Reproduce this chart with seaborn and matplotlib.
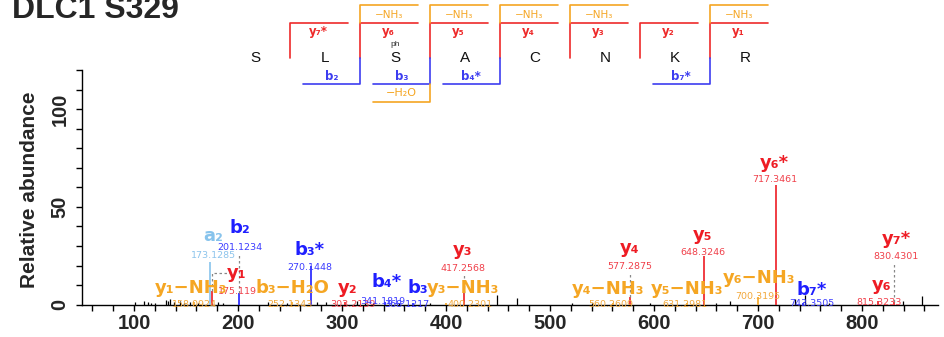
import matplotlib
matplotlib.use("Agg")
import matplotlib.pyplot as plt
from matplotlib.ticker import MultipleLocator
import seaborn as sns
import pandas as pd

sns.set_theme(style="ticks")
plt.rcParams["font.family"] = ["Liberation Sans", "DejaVu Sans"]

# --- annotated fragment ions -------------------------------------------
ion_names = ["a₂", "y₁", "b₂", "y₁−NH₃", "b₃−H₂O", "b₃*", "y₂", "b₄*", "b₃",
             "y₃−NH₃", "y₃", "y₄−NH₃", "y₄", "y₅−NH₃", "y₅", "y₆−NH₃", "y₆*",
             "b₇*", "y₆", "y₇*"]
ion_mz = [173.1285, 175.119, 201.1234, 158.0924, 252.1343, 270.1448, 303.2139,
          341.1819, 368.1217, 400.2301, 417.2568, 560.2609, 577.2875, 631.2981,
          648.3246, 700.3195, 717.3461, 743.3505, 815.3233, 830.4301]
ion_mass_txt = ["173.1285", "175.119", "201.1234", "158.0924", "252.1343",
                "270.1448", "303.2139", "341.1819", "368.1217", "400.2301",
                "417.2568", "560.2609", "577.2875", "631.2981", "648.3246",
                "700.3195", "717.3461", "743.3505", "815.3233", "830.4301"]
ion_int = [22, 7, 6, 1.5, 1.5, 20, 1.5, 1.5, 1, 1, 6, 1, 4, 1, 25, 4, 61, 1, 2, 1.5]
ion_type = ["a", "y", "b", "loss", "loss", "b", "y", "b", "b", "loss", "y", "loss",
            "y", "loss", "y", "loss", "y", "b", "y", "y"]

# label placement (data units)
lab_x = [176, 199, 202, 155, 252, 269, 305.8, 343, 373, 416, 416.3, 556, 577, 632,
         647, 701, 716, 752, 819, 833]
lab_y = [35, 16.1, 39, 8.5, 8.5, 27.9, 8.5, 11.6, 8.5, 8.5, 27.9, 8, 28.9, 8,
         35.5, 13.6, 72.7, 7.5, 10.3, 33.5]
mass_x = [176, 199, 202, 158, 250, 269, 310.6, 339, 362.5, 423, 416.3, 558, 577,
          630, 647, 700, 716, 752, 816, 833]
mass_y = [25.3, 6.5, 29.4, 0.3, 0.3, 19.2, 0.3, 1.4, 0.3, 0.3, 18.7, 0.3, 19.7,
          0.3, 26.8, 4.4, 64, 0.5, 1.1, 24.8]
leader_ions = ["b₂", "y₃", "y₄", "y₇*"]

# --- unassigned peaks ----------------------------------------------------
noise_mz = [101, 109.6, 113.5, 116, 120, 130.8, 133, 135, 138.5, 144, 148, 154,
            162, 181, 185.6, 229, 247, 275.6, 285, 314, 322, 330, 355, 385, 449,
            468, 521, 540, 596, 660, 672.6, 735.5, 745, 768, 839.6, 858]
noise_int = [1.5, 2, 1.2, 1, 0.8, 2.5, 2, 3, 1.5, 2, 1, 1.2, 0.8, 1.5, 1, 1.5, 1,
             1.5, 1.2, 2, 1, 0.8, 1, 1, 5, 3.4, 0.8, 1, 1, 1, 2, 3, 5, 1, 2, 4.2]

# --- peptide header -----------------------------------------------------
sequence = ["S", "L", "S", "A", "C", "N", "K", "R"]
y_marks = {1: "y₇*", 2: "y₆", 3: "y₅", 4: "y₄", 5: "y₃", 6: "y₂", 7: "y₁"}
b_marks = {2: "b₂", 3: "b₃", 4: "b₄*", 7: "b₇*"}
nh3_marks = [2, 3, 4, 5, 7]
h2o_marks = [3]
phospho_site = 2

peak_col = {"y": "#ee1c24", "b": "#1f1fff", "a": "#87c3ec", "loss": "#f5a623"}
mass_col = {"y": "#f0404a", "b": "#3b3bff", "a": "#8cc4ec", "loss": "#f2a83a"}

df = pd.DataFrame({"name": ion_names, "mz": ion_mz, "txt": ion_mass_txt,
                   "int": ion_int, "type": ion_type, "lx": lab_x, "ly": lab_y,
                   "mx": mass_x, "my": mass_y})

fig = plt.figure(figsize=(9.45, 3.37), dpi=100)
ax = fig.add_axes([82 / 945, 32.3 / 337, 856 / 945, 234.7 / 337])

ax.vlines(noise_mz, 0, noise_int, color="black", lw=0.9, zorder=2)
for _, r in df.iterrows():
    ax.vlines(r["mz"], 0, r["int"], color=peak_col[r["type"]], lw=1.2, zorder=3)
    ax.text(r["lx"], r["ly"], r["name"], color=peak_col[r["type"]], fontsize=13,
            fontweight="bold", family="DejaVu Sans", ha="center", va="center", zorder=5)
    ax.text(r["mx"], r["my"], r["txt"], color=mass_col[r["type"]], fontsize=6.8,
            family="DejaVu Sans", ha="center", va="center", zorder=5)
    if r["name"] in leader_ions:
        ax.plot([r["mz"], r["mz"]], [r["int"], r["my"] - 3.0], color="#888888",
                lw=0.9, ls=(0, (2, 2)), zorder=4)

# elbow leader for y1
y1 = df[df["name"] == "y₁"].iloc[0]
ax.plot([y1["mz"], y1["mz"], y1["lx"] - 3], [y1["int"], 16.3, 16.3],
        color="#888888", lw=0.9, ls=(0, (2, 2)), zorder=4)

ax.set_xlim(50, 873)
ax.set_ylim(0, 120)
ax.set_xticks(range(100, 900, 100))
ax.xaxis.set_minor_locator(MultipleLocator(20))
ax.set_yticks([0, 50, 100])
ax.yaxis.set_minor_locator(MultipleLocator(10))
ax.tick_params(which="both", length=4, width=1, color="black", direction="out")
ax.tick_params(axis="x", labelsize=14.5, pad=3)
ax.tick_params(axis="y", labelsize=14.5, pad=5)
for lbl in ax.get_xticklabels():
    lbl.set_fontweight("bold")
for lbl in ax.get_yticklabels():
    lbl.set_fontweight("bold")
    lbl.set_rotation(90)
    lbl.set_va("center")
sns.despine(ax=ax)
for s in ["left", "bottom"]:
    ax.spines[s].set_color("black")
    ax.spines[s].set_linewidth(1)
ax.grid(False)

fig.text(30 / 945, 1 - 190 / 337, "Relative abundance", rotation=90, fontsize=15,
         fontweight="bold", ha="center", va="center")
fig.text(12 / 945, 1 - 17.5 / 337, "DLC1 S329", fontsize=23, fontweight="bold",
         ha="left", va="baseline")

# header drawn in pixel space
hx = fig.add_axes([0, 0, 1, 1], zorder=10)
hx.set_xlim(0, 945)
hx.set_ylim(337, 0)
hx.axis("off")
hx.patch.set_alpha(0)

res_x0, step = 255, 70
y_nh3, y_top, y_mid, y_b, y_h2o, arm = 5, 22.7, 58, 84, 102, 57.5
red, blue, orange = "#ee2a2a", "#3d3df0", "#f5a623"
for i, aa in enumerate(sequence):
    hx.text(res_x0 + step * i, y_mid, aa, fontsize=11, ha="center", va="center",
            color="#111111")
hx.text(res_x0 + step * phospho_site, 45, "ph", fontsize=6, ha="center",
        va="center", color="#333333")
for k, lab in y_marks.items():
    xb = res_x0 + step * k - step / 2
    hx.plot([xb, xb, xb + arm], [y_mid, y_top, y_top], color=red, lw=1.2)
    hx.text(xb + arm / 2, 32, lab, color=red, fontsize=8.5, fontweight="bold",
            family="DejaVu Sans", ha="center", va="center")
for k in nh3_marks:
    xb = res_x0 + step * k - step / 2
    hx.plot([xb, xb, xb + arm], [y_top, y_nh3, y_nh3], color=orange, lw=1.2)
    hx.text(xb + arm / 2, 15, "−NH₃", color=orange, fontsize=7.5,
            family="DejaVu Sans", ha="center", va="center")
for k, lab in b_marks.items():
    xb = res_x0 + step * k - step / 2
    hx.plot([xb, xb, xb - arm], [y_mid, y_b, y_b], color=blue, lw=1.2)
    hx.text(xb - arm / 2, 76, lab, color=blue, fontsize=8.5, fontweight="bold",
            family="DejaVu Sans", ha="center", va="center")
for k in h2o_marks:
    xb = res_x0 + step * k - step / 2
    hx.plot([xb, xb, xb - arm], [y_b, y_h2o, y_h2o], color=orange, lw=1.2)
    hx.text(xb - arm / 2, 93, "−H₂O", color=orange, fontsize=8,
            family="DejaVu Sans", ha="center", va="center")

fig.savefig("out.png", dpi=100)
